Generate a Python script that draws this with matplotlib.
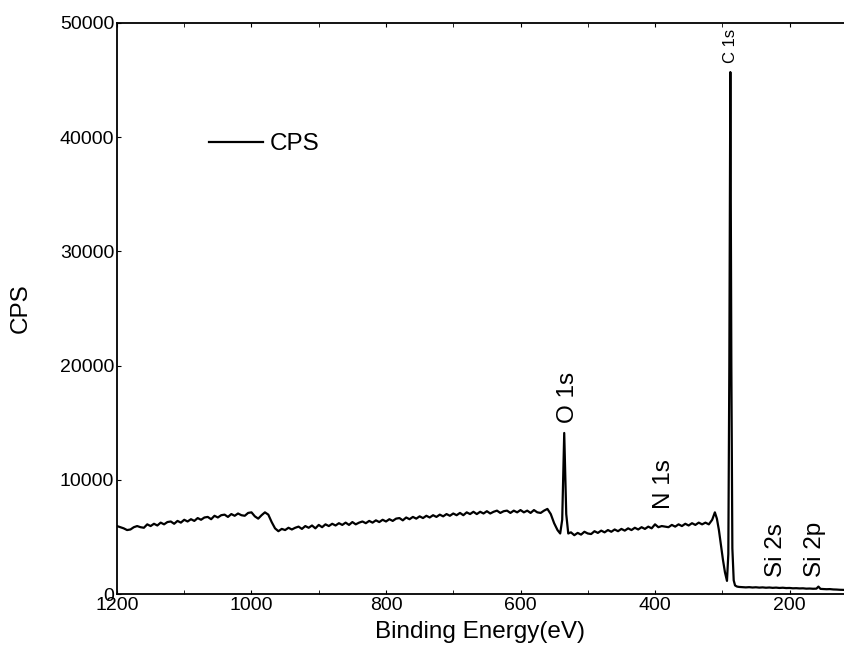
import numpy as np
import matplotlib.pyplot as plt
from matplotlib.ticker import MultipleLocator

plt.rcParams['font.family'] = ['Liberation Sans', 'DejaVu Sans']

# survey spectrum (binding energy in eV, counts per second)
energy = [
    1200, 1195, 1190, 1185, 1180, 1175, 1170, 1165, 1160, 1155,
    1150, 1145, 1140, 1135, 1130, 1125, 1120, 1115, 1110, 1105,
    1100, 1095, 1090, 1085, 1080, 1075, 1070, 1065, 1060, 1055,
    1050, 1045, 1040, 1035, 1030, 1025, 1020, 1015, 1010, 1005,
    1000, 995, 990, 985, 980, 975, 970, 965, 960, 955,
    950, 945, 940, 935, 930, 925, 920, 915, 910, 905,
    900, 895, 890, 885, 880, 875, 870, 865, 860, 855,
    850, 845, 840, 835, 830, 825, 820, 815, 810, 805,
    800, 795, 790, 785, 780, 775, 770, 765, 760, 755,
    750, 745, 740, 735, 730, 725, 720, 715, 710, 705,
    700, 695, 690, 685, 680, 675, 670, 665, 660, 655,
    650, 645, 640, 635, 630, 625, 620, 615, 610, 605,
    600, 595, 590, 585, 580, 575, 570, 565, 560, 555,
    550, 545, 541, 538, 535, 532, 529, 525, 520, 515,
    510, 505, 500, 495, 490, 485, 480, 475, 470, 465,
    460, 455, 450, 445, 440, 435, 430, 425, 420, 415,
    410, 405, 400, 395, 390, 385, 380, 375, 370, 365,
    360, 355, 350, 345, 340, 335, 330, 325, 320, 315,
    311, 308, 305, 302, 299, 296, 293, 291, 289.5, 288,
    286.5, 285, 283, 281, 278, 275, 270, 265, 260, 255,
    250, 245, 240, 235, 230, 225, 220, 215, 210, 205,
    200, 195, 190, 185, 180, 175, 170, 165, 160, 157,
    154, 150, 145, 140, 135, 130, 125, 119,
]
cps = [
    5950, 5850, 5750, 5600, 5650, 5850, 5950, 5850, 5800, 6100,
    5950, 6150, 6000, 6250, 6100, 6300, 6350, 6150, 6400, 6250,
    6500, 6350, 6550, 6400, 6650, 6500, 6700, 6750, 6550, 6850,
    6700, 6900, 6950, 6750, 7000, 6850, 7050, 6900, 6850, 7100,
    7150, 6800, 6600, 6900, 7150, 6950, 6300, 5750, 5500, 5700,
    5600, 5800, 5650, 5800, 5900, 5700, 5950, 5800, 6000, 5750,
    6050, 5850, 6100, 5950, 6150, 6000, 6200, 6050, 6250, 6050,
    6300, 6100, 6250, 6350, 6200, 6400, 6250, 6450, 6300, 6500,
    6350, 6550, 6400, 6600, 6650, 6450, 6700, 6550, 6750, 6600,
    6800, 6650, 6850, 6700, 6900, 6750, 6950, 6800, 7000, 6850,
    7050, 6900, 7100, 6900, 7150, 7000, 7200, 7000, 7200, 7050,
    7250, 7050, 7200, 7300, 7100, 7250, 7300, 7100, 7300, 7150,
    7350, 7150, 7300, 7100, 7350, 7150, 7100, 7300, 7450, 7000,
    6200, 5600, 5300, 6500, 14100, 7000, 5300, 5400, 5150, 5350,
    5200, 5450, 5300, 5250, 5500, 5350, 5550, 5400, 5600, 5450,
    5650, 5500, 5700, 5550, 5750, 5600, 5800, 5650, 5850, 5700,
    5900, 5750, 6100, 5850, 5950, 5900, 5850, 6050, 5900, 6100,
    5950, 6150, 6000, 6200, 6050, 6250, 6100, 6250, 6100, 6500,
    7150, 6600, 5600, 4300, 3000, 1900, 1150, 3500, 20000, 45700,
    20000, 4000, 1200, 750, 650, 620, 600, 580, 600, 570,
    590, 560, 580, 550, 570, 540, 560, 530, 550, 520,
    530, 500, 510, 490, 500, 470, 480, 460, 470, 650,
    450, 440, 420, 430, 400, 390, 370, 360,
]

peak_labels = ['C 1s', 'O 1s', 'N 1s', 'Si 2s', 'Si 2p']
peak_pos = [288, 529, 387, 220, 162]
peak_y = [46500, 15000, 7400, 1500, 1500]
peak_size = [12, 17.5, 17.5, 17.5, 17.5]

fig = plt.figure(figsize=(8.44, 6.47), dpi=100)
ax = fig.add_axes([0.1386, 0.0819, 0.8614, 0.8826])

ax.plot(energy, cps, color='black', lw=1.6, label='CPS')

for lab, x, y, s in zip(peak_labels, peak_pos, peak_y, peak_size):
    ax.text(x, y, lab, rotation=90, ha='center', va='bottom', fontsize=s)

ax.set_xlim(1200, 119)
ax.set_ylim(0, 50000)
ax.xaxis.set_major_locator(MultipleLocator(200))
ax.xaxis.set_minor_locator(MultipleLocator(100))
ax.yaxis.set_major_locator(MultipleLocator(10000))
ax.tick_params(axis='both', which='both', direction='in', top=True, labelsize=14, pad=2)
ax.tick_params(axis='both', which='major', length=3)
ax.tick_params(axis='both', which='minor', length=3)
ax.spines['right'].set_visible(False)
for s in ['left', 'top', 'bottom']:
    ax.spines[s].set_linewidth(1.3)

ax.set_xlabel('Binding Energy(eV)', fontsize=17.5, labelpad=5)
ax.set_ylabel('CPS', fontsize=17.5, labelpad=20)

ax.legend(loc='upper left', bbox_to_anchor=(0.097, 0.845), frameon=False, fontsize=17.5,
          handlelength=2.2, handletextpad=0.3)

fig.savefig('out.png', dpi=100)
